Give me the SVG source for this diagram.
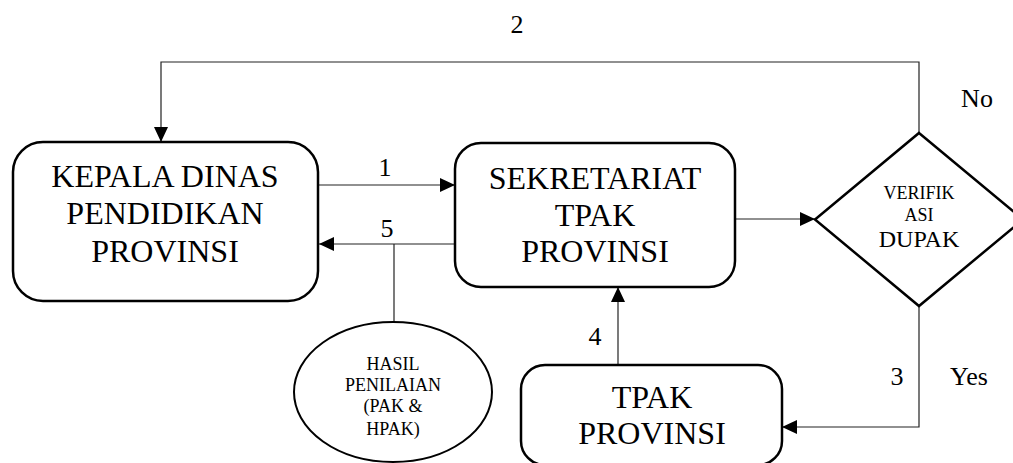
<svg xmlns="http://www.w3.org/2000/svg" width="1013" height="463" viewBox="0 0 1013 463">
  <style>
    .box { fill: #fff; stroke: #000; stroke-width: 2.5; }
    .conn { fill: none; stroke: #222; stroke-width: 1.2; }
    text { fill: #000; text-anchor: middle; font-family: 'Liberation Serif', 'Times New Roman', serif; }
    .big { font-size: 32px; }
    .lbl { font-size: 26px; }
    .sm { font-size: 18px; }
    .mid { font-size: 24px; }
  </style>
  <defs>
    <marker id="arrow" markerUnits="userSpaceOnUse" markerWidth="15" markerHeight="14" refX="15" refY="7" orient="auto">
      <path d="M0,0 L15,7 L0,14 z" fill="#000"/>
    </marker>
  </defs>

  <rect width="1013" height="463" fill="#fff"/>

  <!-- connectors and their labels -->
  <g id="connectors">
    <line class="conn" x1="318" y1="185" x2="455" y2="185" marker-end="url(#arrow)"/>
    <line class="conn" x1="455" y1="244" x2="319" y2="244" marker-end="url(#arrow)"/>
    <line class="conn" x1="394" y1="244" x2="394" y2="322"/>
    <line class="conn" x1="735" y1="219" x2="815" y2="219" marker-end="url(#arrow)"/>
    <path class="conn" d="M919,133 V62 H161 V142" marker-end="url(#arrow)"/>
    <path class="conn" d="M919,306 V427 H782" marker-end="url(#arrow)"/>
    <line class="conn" x1="618" y1="365" x2="618" y2="287" marker-end="url(#arrow)"/>
    <text class="lbl" x="385" y="176">1</text>
    <text class="lbl" x="387" y="237">5</text>
    <text class="lbl" x="517" y="33">2</text>
    <text class="lbl" x="977" y="107">No</text>
    <text class="lbl" x="897" y="385">3</text>
    <text class="lbl" x="969" y="385">Yes</text>
    <text class="lbl" x="595" y="345">4</text>
  </g>

  <!-- KEPALA DINAS PENDIDIKAN PROVINSI -->
  <g id="kepala">
    <rect class="box" x="13" y="142" width="305" height="159" rx="30" ry="30"/>
    <text class="big" x="165" y="187">KEPALA DINAS</text>
    <text class="big" x="165" y="224">PENDIDIKAN</text>
    <text class="big" x="165" y="262">PROVINSI</text>
  </g>

  <!-- SEKRETARIAT TPAK PROVINSI -->
  <g id="sekretariat">
    <rect class="box" x="455" y="143" width="280" height="144" rx="26" ry="26"/>
    <text class="big" x="595" y="189">SEKRETARIAT</text>
    <text class="big" x="595" y="226">TPAK</text>
    <text class="big" x="595" y="262">PROVINSI</text>
  </g>

  <!-- VERIFIKASI DUPAK decision -->
  <g id="verifikasi">
    <polygon class="box" points="919,133 1023,219.5 919,306 815,219.5"/>
    <text class="sm" x="919" y="199">VERIFIK</text>
    <text class="sm" x="919" y="221">ASI</text>
    <text class="mid" x="919" y="247">DUPAK</text>
  </g>

  <!-- TPAK PROVINSI -->
  <g id="tpak">
    <rect class="box" x="521" y="365" width="261" height="100" rx="24" ry="24"/>
    <text class="big" x="652" y="408">TPAK</text>
    <text class="big" x="652" y="444">PROVINSI</text>
  </g>

  <!-- HASIL PENILAIAN -->
  <g id="hasil">
    <ellipse class="box" cx="393" cy="392" rx="99" ry="70" style="stroke-width:2"/>
    <text class="sm" x="393" y="370">HASIL</text>
    <text class="sm" x="393" y="391">PENILAIAN</text>
    <text class="sm" x="393" y="412">(PAK &amp;</text>
    <text class="sm" x="393" y="435">HPAK)</text>
  </g>
</svg>
